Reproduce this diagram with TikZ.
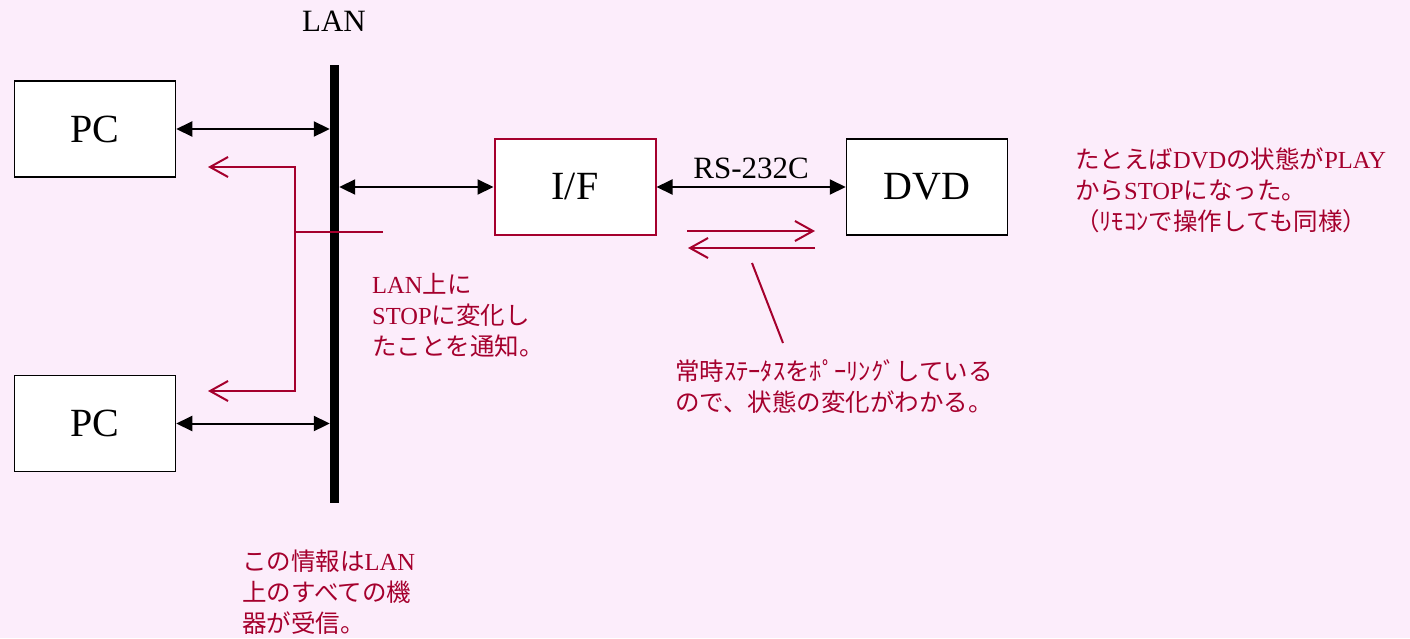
\documentclass[tikz,border=0pt]{standalone}
\usepackage{fontspec}
\setmainfont{Liberation Serif}
\newfontfamily\jpfont{Noto Sans CJK JP}
\usetikzlibrary{arrows.meta,positioning}
\definecolor{memored}{RGB}{165,0,45}
\definecolor{paper}{RGB}{252,237,251}
\newcommand{\en}[1]{{\rmfamily #1}}
\tikzset{%
    unit/.style={draw=black, line width=1.5pt, fill=white, minimum width=161pt,
        minimum height=96pt, inner sep=0pt, font=\fontsize{40}{48}\selectfont},
    link/.style={line width=2pt,
        {Triangle[length=16pt,width=15pt]}-{Triangle[length=16pt,width=15pt]}},
    notify/.style={draw=memored, line width=2pt},
    barb/.style={notify, -{Straight Barb[length=18pt,width=20pt]}},
    memo/.style={text=memored, align=left, anchor=base west, inner sep=0pt,
        font=\jpfont\fontsize{24.5}{31}\selectfont}
}
\begin{document}
\begin{tikzpicture}[x=1pt,y=-1pt]
    \fill[paper] (0,0) rectangle (1410,638);
    \useasboundingbox (0,0) rectangle (1410,638);
    % LAN backbone
    \node[fill=black, inner sep=0pt, minimum width=9pt, minimum height=438pt] (lan) at (334.5,284) {};
    \node[inner sep=0pt, font=\fontsize{31}{36}\selectfont] (lanlabel) at (334,21) {LAN};
    \node[unit] (pc1) at (95,129) {PC};
    \node[unit] (pc2) at (95,423.5) {PC};
    \node[unit, draw=memored, line width=2pt] (if) at (575,187) {I/F};
    \node[unit] (dvd) at (927,187) {DVD};
    \draw[link] (pc1) -- (pc1 -| lan.west);
    \draw[link] (pc2) -- (pc2 -| lan.west);
    \draw[link] (lan.east |- if) -- (if);
    \draw[link] (if) -- node[above=7pt, inner sep=0pt, font=\fontsize{31}{36}\selectfont] (rs) {RS-232C} (dvd);
    % notification to all PCs
    \coordinate (tap) at (383,232);
    \coordinate (hub) at (295,232);
    \coordinate (up) at (295,167);
    \coordinate (down) at (295,391);
    \coordinate (upend) at (208,167);
    \coordinate (downend) at (208,391);
    \draw[notify] (tap) -- (hub);
    \draw[barb] (hub) -- (up) -- (upend);
    \draw[barb] (hub) -- (down) -- (downend);
    % polling
    \coordinate (pollA) at (687,231);
    \coordinate (pollB) at (815,231);
    \coordinate (pollC) at (815,248);
    \coordinate (pollD) at (688,248);
    \draw[barb] (pollA) -- (pollB);
    \draw[barb] (pollC) -- (pollD);
    \coordinate (leadA) at (752,263);
    \coordinate (leadB) at (783,343);
    \draw[notify] (leadA) -- (leadB);
    % notes (anchored at the last line)
    \node[memo] (lannote) at (372,355) {\en{LAN}上に\\\en{STOP}に変化し\\たことを通知。};
    \node[memo] (pollnote) at (675,411) {常時ｽﾃｰﾀｽをﾎﾟｰﾘﾝｸﾞしている\\ので、状態の変化がわかる。};
    \node[memo] (dvdnote) at (1075,230) {たとえば\en{DVD}の状態が\en{PLAY}\\から\en{STOP}になった。\\（ﾘﾓｺﾝで操作しても同様）};
    \node[memo] (allnote) at (242,632) {この情報は\en{LAN}\\上のすべての機\\器が受信。};
\end{tikzpicture}
\end{document}
